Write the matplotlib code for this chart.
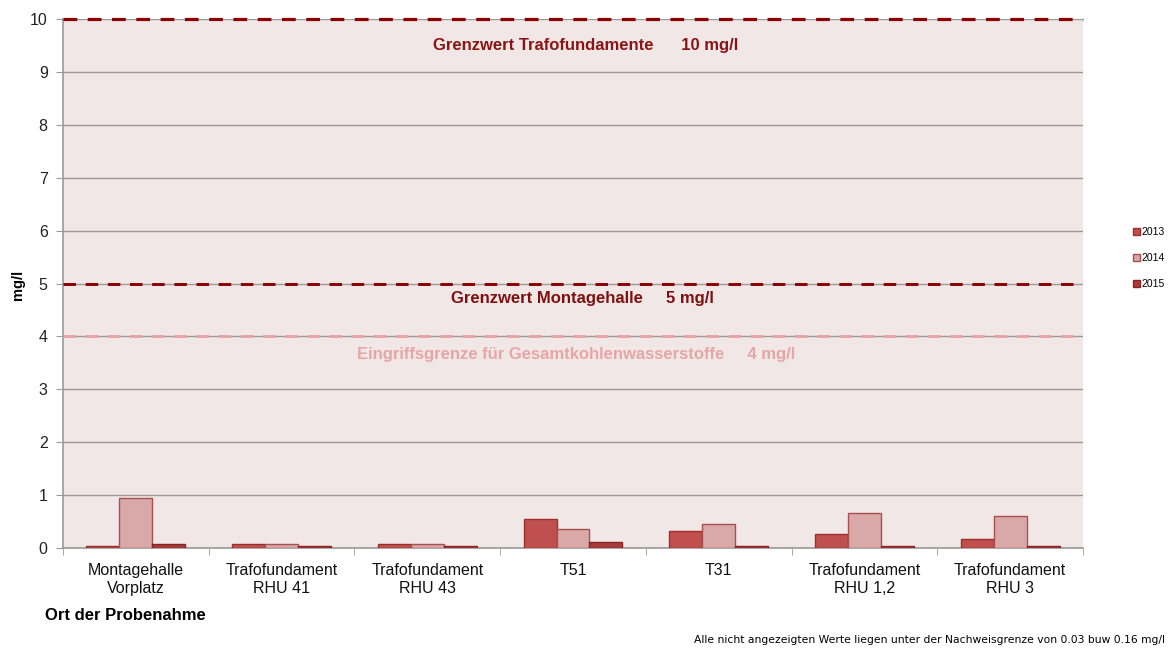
import matplotlib
matplotlib.use("Agg")
import matplotlib.pyplot as plt
import numpy as np

plt.rcParams['font.family'] = ['Liberation Sans', 'DejaVu Sans']

categories = ["Montagehalle\nVorplatz", "Trafofundament\nRHU 41", "Trafofundament\nRHU 43",
              "T51", "T31", "Trafofundament\nRHU 1,2", "Trafofundament\nRHU 3"]
v2013 = [0.03, 0.07, 0.07, 0.55, 0.32, 0.26, 0.17]
v2014 = [0.95, 0.07, 0.07, 0.36, 0.45, 0.66, 0.60]
v2015 = [0.07, 0.03, 0.03, 0.11, 0.03, 0.03, 0.03]
series = [("2013", v2013, "#C0504D", "#9B2F2C"),
          ("2014", v2014, "#D9A9A9", "#A8504E"),
          ("2015", v2015, "#A83A3A", "#8A2424")]
yticks = list(range(0, 11))

fig = plt.figure(figsize=(11.69, 6.48), dpi=100)
ax = fig.add_axes([63 / 1169, 1 - 548 / 648, 1020 / 1169, 529 / 648])
ax.set_facecolor("#F2E7E7")

x = np.arange(len(categories))
w = 0.226
for i, (name, vals, fc, ec) in enumerate(series):
    ax.bar(x + (i - 1) * w, vals, w, color=fc, edgecolor=ec, linewidth=1.0,
           label=name, zorder=3)

ax.set_xlim(-0.5, len(categories) - 0.5)
ax.set_ylim(0, 10)
ax.set_yticks(yticks)
ax.set_yticklabels([str(t) for t in yticks], fontsize=11.5, color="#222222")
ax.yaxis.grid(True, color="#9A9A9A", linewidth=1.0, zorder=1)
ax.set_axisbelow(True)
ax.tick_params(axis="y", length=5, color="#9A9A9A", pad=6)

ax.set_xticks(x)
ax.set_xticklabels(categories, fontsize=11.5, color="#111111")
ax.tick_params(axis="x", length=0, pad=11)
ax.set_xticks(np.arange(-0.5, len(categories)), minor=True)
ax.tick_params(axis="x", which="minor", length=5, color="#9A9A9A")

for s in ["top", "right"]:
    ax.spines[s].set_visible(False)
ax.spines["left"].set_color("#9A9A9A")
ax.spines["bottom"].set_color("#9A9A9A")
ax.spines["left"].set_linewidth(1.2)
ax.spines["bottom"].set_linewidth(1.2)

# limit lines
dash = (0, (4.3, 3.3))
ax.axhline(10, color="#8B0000", linestyle=dash, linewidth=2.3, zorder=4, clip_on=False)
ax.axhline(5, color="#8B0000", linestyle=dash, linewidth=2.1, zorder=4)
ax.axhline(4, color="#E8A3A3", linestyle=dash, linewidth=2.1, zorder=4)

tr = ax.get_yaxis_transform()
ax.text(0.512, 9.5, "Grenzwert Trafofundamente      10 mg/l", ha="center", va="center",
        fontsize=12, fontweight="bold", color="#8B1414", transform=tr)
ax.text(0.509, 4.72, "Grenzwert Montagehalle     5 mg/l", ha="center", va="center",
        fontsize=12, fontweight="bold", color="#7F1010", transform=tr)
ax.text(0.503, 3.65, "Eingriffsgrenze für Gesamtkohlenwasserstoffe     4 mg/l", ha="center", va="center",
        fontsize=12, fontweight="bold", color="#E6A6A6", transform=tr)

fig.text(18 / 1169, 1 - 285 / 648, "mg/l", rotation=90, ha="center", va="center",
         fontsize=10.5, fontweight="bold")
fig.text(45 / 1169, 1 - 615 / 648, "Ort der Probenahme", ha="left", va="center",
         fontsize=12, fontweight="bold")
fig.text(1165 / 1169, 1 - 643 / 648,
         "Alle nicht angezeigten Werte liegen unter der Nachweisgrenze von 0.03 buw 0.16 mg/l",
         ha="right", va="baseline", fontsize=7.75, family=['DejaVu Sans'])

leg = fig.legend(loc="center left", bbox_to_anchor=(1128 / 1169, 1 - 258 / 648), frameon=False,
                 fontsize=7.5, handlelength=0.65, handleheight=0.65, handletextpad=0.15,
                 labelspacing=1.55, borderpad=0)

fig.savefig("out.png", dpi=100)
